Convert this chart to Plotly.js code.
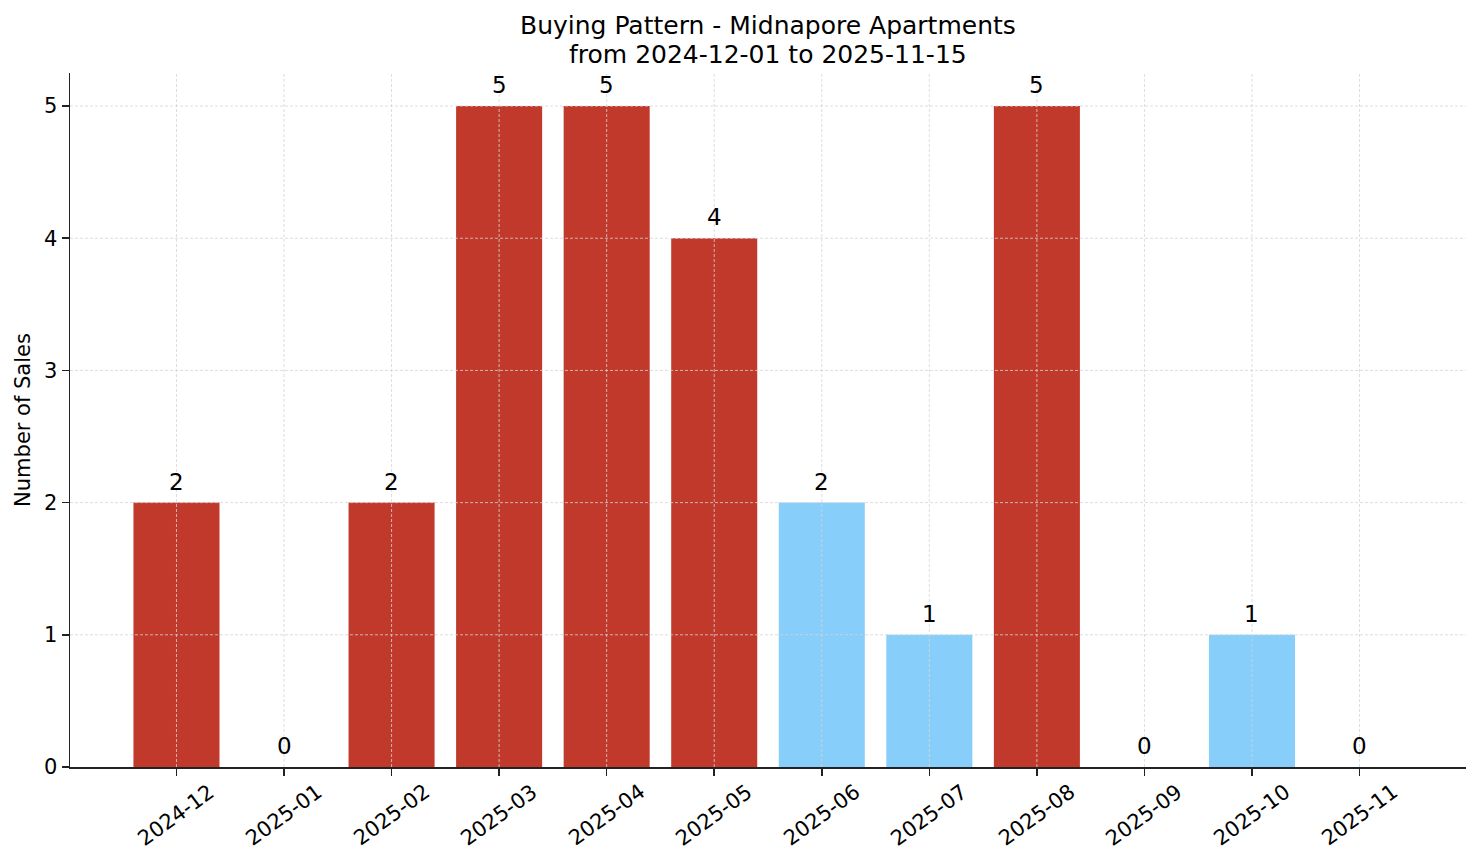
<!DOCTYPE html>
<html>
<head>
<meta charset="utf-8">
<script src="https://cdn.plot.ly/plotly-3.0.1.min.js"></script>
<style>
  html, body { margin: 0; padding: 0; background: #fff; }
  #chart { width: 1481px; height: 863px; }
</style>
</head>
<body>
<div id="chart"></div>
<script>
// months on the x axis
const months = ["2024-12", "2025-01", "2025-02", "2025-03", "2025-04", "2025-05",
                "2025-06", "2025-07", "2025-08", "2025-09", "2025-10", "2025-11"];
// number of sales per month
const sales = [2, 0, 2, 5, 5, 4, 2, 1, 5, 0, 1, 0];
// red months vs light blue months
const busy = [true, false, true, true, true, true, false, false, true, false, false, false];
const yTicks = [0, 1, 2, 3, 4, 5];
const titleLines = ["Buying Pattern - Midnapore Apartments", "from 2024-12-01 to 2025-11-15"];

const RED = "#c0392b";
const BLUE = "#87cefa";
const FONT = "DejaVu Sans, Liberation Sans, sans-serif";
const GRID = {color: "#d4d4d4", width: 0.8, dash: "3px,2px"};

const idx = months.map((m, i) => i);

const trace = {
    type: "bar",
    x: idx,
    y: sales,
    width: 0.8,
    marker: {color: busy.map(b => b ? RED : BLUE), line: {width: 0}},
    hoverinfo: "skip",
};

// value labels above each bar
const valueNotes = sales.map((v, i) => ({
    xref: "x", yref: "y",
    x: i, y: v,
    yshift: 6,
    text: String(v),
    showarrow: false,
    xanchor: "center", yanchor: "bottom",
    font: {family: FONT, size: 23, color: "#000"},
}));

// rotated month labels, centred under the ticks like matplotlib
const tickNotes = months.map((m, i) => ({
    xref: "x", yref: "paper",
    x: i, y: 0,
    yshift: -48, xshift: 0,
    text: m,
    textangle: -36,
    showarrow: false,
    xanchor: "center", yanchor: "middle",
    font: {family: FONT, size: 21, color: "#000"},
}));

// two title lines with matplotlib's tighter line spacing
const titleNotes = titleLines.map((t, k) => ({
    xref: "paper", yref: "paper",
    x: 0.5, y: 1,
    yshift: k === 0 ? 48 : 19,
    text: t,
    showarrow: false,
    xanchor: "center", yanchor: "middle",
    font: {family: FONT, size: 25, color: "#000"},
}));

// grid drawn over the bars, as in the original
const gridLines = [
    ...idx.map(i => ({type: "line", layer: "above", xref: "x", yref: "paper",
                      x0: i, x1: i, y0: 0, y1: 1, line: GRID})),
    ...yTicks.filter(t => t > 0).map(t => ({type: "line", layer: "above", xref: "paper", yref: "y",
                      x0: 0, x1: 1, y0: t, y1: t, line: GRID})),
];

const layout = {
    width: 1481,
    height: 863,
    margin: {l: 70, r: 15, t: 73, b: 96},
    paper_bgcolor: "#fff",
    plot_bgcolor: "#fff",
    font: {family: FONT, size: 21, color: "#000"},
    showlegend: false,
    xaxis: {
        range: [-0.99, 11.99],
        tickvals: idx,
        showticklabels: false,
        ticks: "outside", ticklen: 7, tickwidth: 1.5, tickcolor: "#222",
        showline: true, linecolor: "#222", linewidth: 1.5,
        showgrid: false, zeroline: false, fixedrange: true,
    },
    yaxis: {
        range: [0, 5.25],
        tickvals: yTicks,
        ticks: "outside", ticklen: 7, tickwidth: 1.5, tickcolor: "#222",
        tickfont: {family: FONT, size: 21, color: "#000"},
        showline: true, linecolor: "#222", linewidth: 1.5,
        showgrid: false, zeroline: false, fixedrange: true,
        title: {text: "Number of Sales", font: {family: FONT, size: 21, color: "#000"}, standoff: 7},
    },
    shapes: gridLines,
    annotations: [...titleNotes, ...valueNotes, ...tickNotes],
};

Plotly.newPlot("chart", [trace], layout, {displayModeBar: false, staticPlot: true});
</script>
</body>
</html>
